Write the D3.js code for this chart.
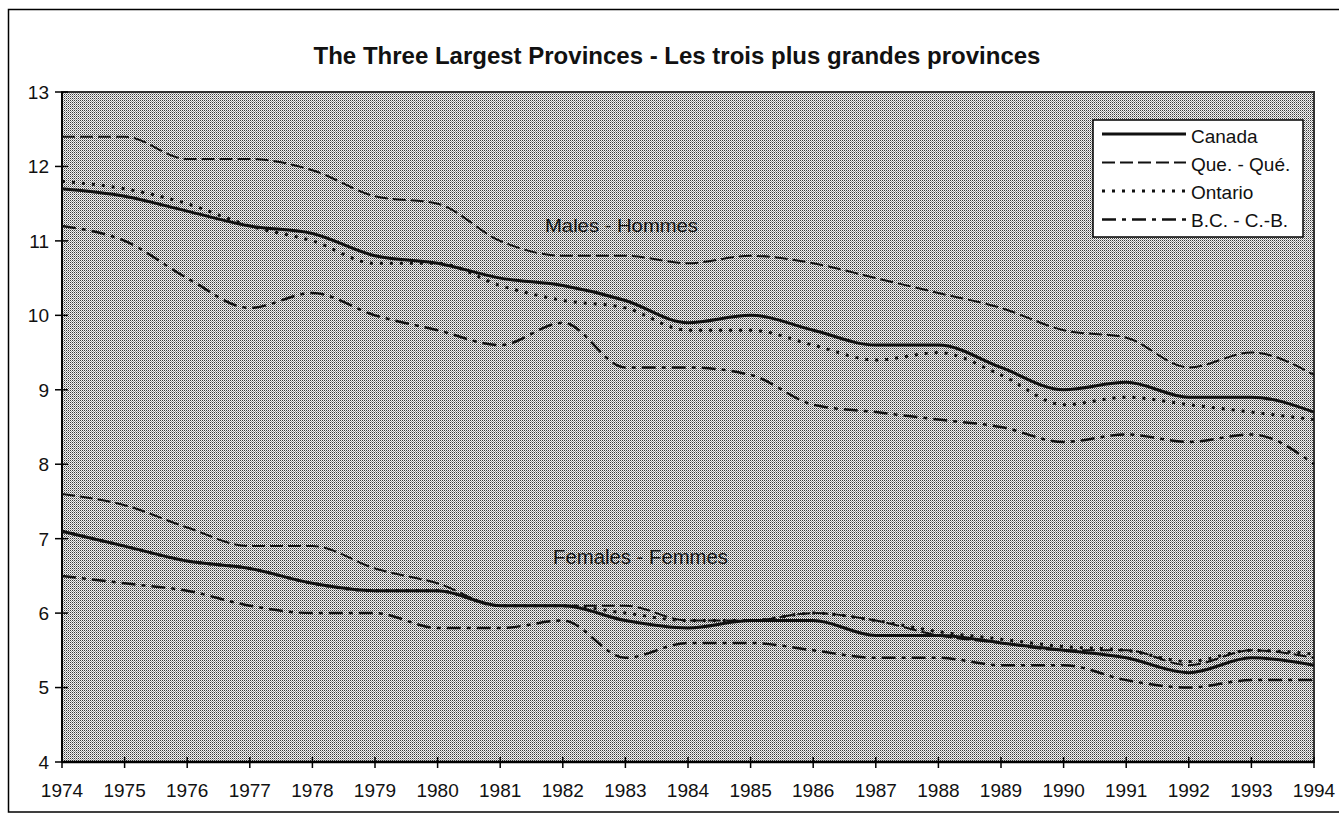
<!DOCTYPE html>
<html>
<head>
<meta charset="utf-8">
<script src="https://cdn.jsdelivr.net/npm/d3@7"></script>
<style>
  html, body { margin: 0; padding: 0; background: #fff; }
  svg { display: block; font-family: "Liberation Sans", Arial, Helvetica, sans-serif; }
</style>
</head>
<body>
<svg id="chart" width="1339" height="814"></svg>
<script>
const years = [1974,1975,1976,1977,1978,1979,1980,1981,1982,1983,1984,1985,1986,1987,1988,1989,1990,1991,1992,1993,1994];
const yTicks = [4,5,6,7,8,9,10,11,12,13];

const seriesNames = ["Canada", "Que. - Qué.", "Ontario", "B.C. - C.-B."];

// Males - Hommes
const malesCanada  = [11.7,11.6,11.4,11.2,11.1,10.8,10.7,10.5,10.4,10.2,9.9,10.0,9.8,9.6,9.6,9.3,9.0,9.1,8.9,8.9,8.7];
const malesQuebec  = [12.4,12.4,12.1,12.1,11.95,11.6,11.5,11.0,10.8,10.8,10.7,10.8,10.7,10.5,10.3,10.1,9.8,9.7,9.3,9.5,9.2];
const malesOntario = [11.8,11.7,11.5,11.2,11.0,10.7,10.7,10.4,10.2,10.1,9.8,9.8,9.6,9.4,9.5,9.2,8.8,8.9,8.8,8.7,8.6];
const malesBC      = [11.2,11.0,10.5,10.1,10.3,10.0,9.8,9.6,9.9,9.3,9.3,9.2,8.8,8.7,8.6,8.5,8.3,8.4,8.3,8.4,8.0];

// Females - Femmes
const femalesCanada  = [7.1,6.9,6.7,6.6,6.4,6.3,6.3,6.1,6.1,5.9,5.8,5.9,5.9,5.7,5.7,5.6,5.5,5.4,5.2,5.4,5.3];
const femalesQuebec  = [7.6,7.45,7.15,6.9,6.9,6.6,6.4,6.1,6.1,6.1,5.9,5.9,6.0,5.9,5.7,5.6,5.5,5.5,5.3,5.5,5.4];
const femalesOntario = [7.1,6.9,6.7,6.6,6.4,6.3,6.3,6.1,6.1,6.0,5.9,5.9,6.0,5.9,5.75,5.65,5.55,5.5,5.35,5.5,5.45];
const femalesBC      = [6.5,6.4,6.3,6.1,6.0,6.0,5.8,5.8,5.9,5.4,5.6,5.6,5.5,5.4,5.4,5.3,5.3,5.1,5.0,5.1,5.1];

const titleText = "The Three Largest Provinces - Les trois plus grandes provinces";
const malesLabel = "Males - Hommes";
const femalesLabel = "Females - Femmes";

const styles = [
  { width: 3,   dash: null },
  { width: 2,   dash: "13,5" },
  { width: 3,   dash: "3,7" },
  { width: 2.5, dash: "14,6,4,6" }
];

const svg = d3.select("#chart");
const L = 62, R = 1314, T = 92, B = 762;

const x = d3.scaleLinear().domain([1974, 1994]).range([L, R]);
const y = d3.scaleLinear().domain([4, 13]).range([B, T]);

// outer frame (right edge runs off the page as in the scan)
svg.append("rect").attr("x", 8.5).attr("y", 9.5).attr("width", 1360).attr("height", 802.5)
  .attr("fill", "#fff").attr("stroke", "#000").attr("stroke-width", 1.5);

// dither pattern
const defs = svg.append("defs");
const pat = defs.append("pattern").attr("id", "dither").attr("patternUnits", "userSpaceOnUse")
  .attr("width", 2).attr("height", 2);
pat.append("rect").attr("width", 2).attr("height", 2).attr("fill", "#f4f4f4");
pat.append("rect").attr("x", 0).attr("y", 0).attr("width", 1).attr("height", 1).attr("fill", "#3a3a3a");
pat.append("rect").attr("x", 1).attr("y", 1).attr("width", 1).attr("height", 1).attr("fill", "#9a9a9a");

svg.append("rect").attr("x", L).attr("y", T).attr("width", R - L).attr("height", B - T)
  .attr("fill", "url(#dither)").attr("shape-rendering", "crispEdges")
  .attr("stroke", "#333").attr("stroke-width", 1.5);

// title
svg.append("text").attr("x", 677).attr("y", 64).attr("text-anchor", "middle")
  .attr("font-size", 24).attr("font-weight", "bold").attr("fill", "#111").text(titleText);

// axes lines
svg.append("line").attr("x1", L).attr("x2", L).attr("y1", T).attr("y2", B)
  .attr("stroke", "#000").attr("stroke-width", 2);
svg.append("line").attr("x1", L).attr("x2", R).attr("y1", B).attr("y2", B)
  .attr("stroke", "#000").attr("stroke-width", 2.5);

// y ticks & labels
const yg = svg.append("g");
yTicks.forEach(t => {
  yg.append("line").attr("x1", L - 7).attr("x2", L + 6).attr("y1", y(t)).attr("y2", y(t))
    .attr("stroke", "#000").attr("stroke-width", 1.5);
  yg.append("text").attr("x", 49).attr("y", y(t)).attr("dy", "0.36em").attr("text-anchor", "end")
    .attr("font-size", 19).attr("fill", "#111").text(t);
});

// x ticks & labels
const xg = svg.append("g");
years.forEach(yr => {
  xg.append("line").attr("x1", x(yr)).attr("x2", x(yr)).attr("y1", B - 5).attr("y2", B + 6)
    .attr("stroke", "#000").attr("stroke-width", 1.5);
  xg.append("text").attr("x", x(yr)).attr("y", 797).attr("text-anchor", "middle")
    .attr("font-size", 19).attr("fill", "#111").text(yr);
});

// annotations
svg.append("text").attr("x", 545).attr("y", 232).attr("font-size", 19)
  .attr("textLength", 153).attr("lengthAdjust", "spacingAndGlyphs").attr("fill", "#151515").text(malesLabel);
svg.append("text").attr("x", 553).attr("y", 564).attr("font-size", 20)
  .attr("textLength", 175).attr("lengthAdjust", "spacingAndGlyphs").attr("fill", "#151515").text(femalesLabel);

// lines
const line = d3.line().x((d, i) => x(years[i])).y(d => y(d)).curve(d3.curveMonotoneX);
const groups = [
  [malesCanada, malesQuebec, malesOntario, malesBC],
  [femalesCanada, femalesQuebec, femalesOntario, femalesBC]
];
groups.forEach(g => {
  [3, 1, 2, 0].forEach(k => {
    svg.append("path").datum(g[k]).attr("d", line)
      .attr("fill", "none").attr("stroke", "#111")
      .attr("stroke-width", styles[k].width)
      .attr("stroke-dasharray", styles[k].dash)
      .attr("stroke-linejoin", "round");
  });
});

// legend
const lg = svg.append("g");
lg.append("rect").attr("x", 1093).attr("y", 120).attr("width", 210).attr("height", 117)
  .attr("fill", "#fff").attr("stroke", "#000").attr("stroke-width", 1.5);
seriesNames.forEach((name, k) => {
  const ly = 134 + k * 28.5;
  lg.append("line").attr("x1", 1102).attr("x2", 1186).attr("y1", ly).attr("y2", ly)
    .attr("stroke", "#111").attr("stroke-width", styles[k].width)
    .attr("stroke-dasharray", styles[k].dash);
  lg.append("text").attr("x", 1191).attr("y", 143 + k * 28)
    .attr("font-size", 19).attr("fill", "#111").text(name);
});
</script>
</body>
</html>
